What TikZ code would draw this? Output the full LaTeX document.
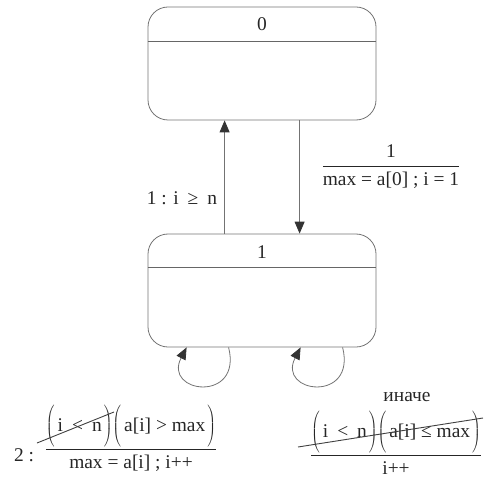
\documentclass[tikz,border=0pt]{standalone}
\usepackage{fontspec}
\setmainfont{Liberation Serif}
\usetikzlibrary{arrows.meta,calc}
\tikzset{
  statebox/.style={draw=black!55, line width=0.8bp, rounded corners=20bp,
    minimum width=228bp, minimum height=113bp, inner sep=0pt},
  divider/.style={draw=black!60, line width=0.8bp},
  trans/.style={draw=black!55, line width=0.8bp,
    -{Triangle[length=12bp,width=10bp,color=black!80]}},
  lbl/.style={font=\fontsize{19.5}{22}\selectfont, inner sep=0pt, text=black!85},
  strike/.style={draw=black!75, line width=0.9bp},
}
\newcommand{\pq}[1]{\ensuremath{\left(\vrule height 19bp depth 16bp width 0pt\mbox{\hspace{3bp}#1\hspace{2bp}}\right)}}
\newcommand{\wsp}{\hspace{9bp}}
\begin{document}
\begin{tikzpicture}[x=1bp,y=-1bp]
\useasboundingbox (0,0) rectangle (484,477);
% states
\node[statebox] (s0) at (262,63.5) {};
\node[statebox] (s1) at (262,290.5) {};
\draw[divider] ($(s0.north west)+(0,35)$) -- ($(s0.north east)+(0,35)$);
\draw[divider] ($(s1.north west)+(0,34)$) -- ($(s1.north east)+(0,34)$);
\node[lbl] (n0) at ($(s0.north)+(0,18)$) {0};
\node[lbl] (n1) at ($(s1.north)+(0,18)$) {1};
% transitions between states
\draw[trans] ([xshift=77bp]s1.north west) -- ([xshift=77bp]s0.south west);
\draw[trans] ([xshift=152bp]s0.south west) -- ([xshift=152bp]s1.north west);
% self loops
\draw[trans] ([xshift=81bp]s1.south west) .. controls +(14,56) and +(-24,46) .. ([xshift=39bp]s1.south west);
\draw[trans] ([xshift=195bp]s1.south west) .. controls +(14,56) and +(-24,46) .. ([xshift=153bp]s1.south west);
% labels
\node[lbl] (l10) at (182,198) {1 : i\wsp≥\wsp n};
\node[lbl, anchor=base] (l01) at (391,171) {$\displaystyle\frac{\mbox{1}}{\mbox{max = a[0] ; i = 1}}$};
\node[lbl] (two) at (24,455) {2 :};
\node[lbl, anchor=base] (l11a) at (131,454) {$\displaystyle\frac{\mbox{\pq{i\wsp<\wsp n}\pq{a[i] > max}}}{\mbox{max = a[i] ; i++}}$};
\node[lbl] (else) at (407,397) {иначе};
\node[lbl, anchor=base] (l11b) at (396,460) {$\displaystyle\frac{\mbox{\pq{i\wsp<\wsp n}\pq{a[i] ≤ max}}}{\mbox{i++}}$};
% strike-through lines
\coordinate (sa1) at (37,443);  \coordinate (sa2) at (114,412);
\coordinate (sb1) at (298,447); \coordinate (sb2) at (483,418);
\draw[strike] (sa1) -- (sa2);
\draw[strike] (sb1) -- (sb2);
\end{tikzpicture}
\end{document}
